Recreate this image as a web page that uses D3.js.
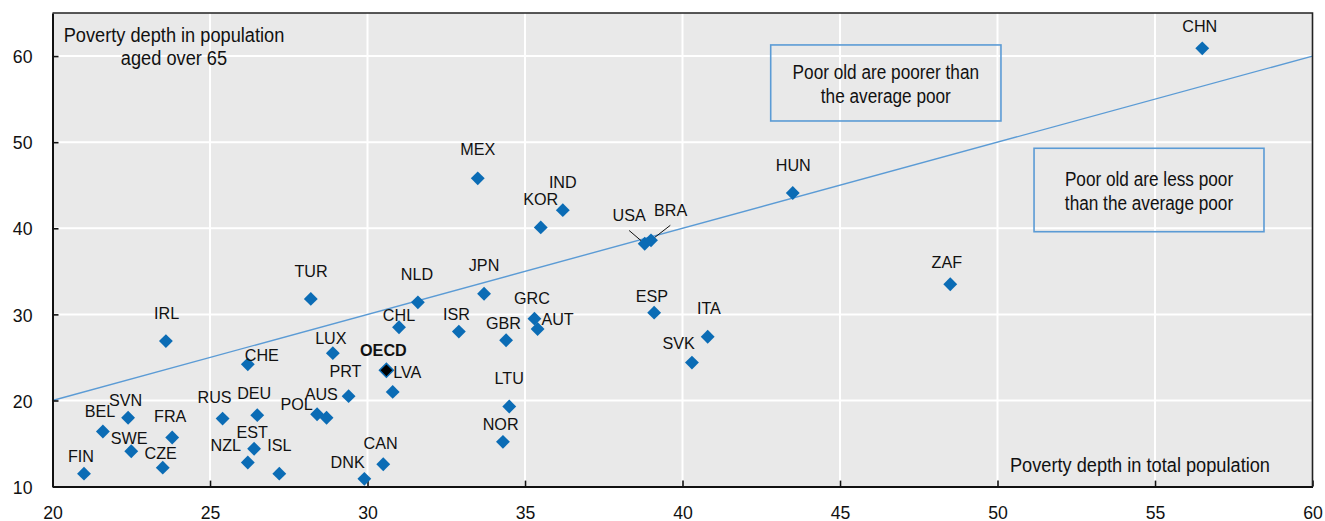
<!DOCTYPE html>
<html>
<head>
<meta charset="utf-8">
<script src="https://cdn.jsdelivr.net/npm/d3@7/dist/d3.min.js"></script>
<style>
  html, body { margin: 0; padding: 0; background: #ffffff; }
  svg { display: block; }
  text { font-family: "Liberation Sans", Arial, sans-serif; fill: #111; }
</style>
</head>
<body>
<svg id="chart" width="1325" height="521"></svg>
<script>
// Country codes with poverty depth in total population (x) and among people aged over 65 (y)
const countries = ["FIN","BEL","SVN","SWE","CZE","FRA","IRL","RUS","DEU","CHE","NZL","EST","ISL","TUR","POL","AUS","LUX","PRT","DNK","CAN","OECD","LVA","CHL","NLD","ISR","JPN","MEX","GBR","LTU","NOR","GRC","AUT","KOR","IND","USA","BRA","ESP","SVK","ITA","HUN","ZAF","CHN"];
const totalDepth = [21.0,21.6,22.4,22.5,23.5,23.8,23.6,25.4,26.5,26.2,26.2,26.4,27.2,28.2,28.4,28.7,28.9,29.4,29.9,30.5,30.6,30.8,31.0,31.6,32.9,33.7,33.5,34.4,34.5,34.3,35.3,35.4,35.5,36.2,38.8,39.0,39.1,40.3,40.8,43.5,48.5,56.5];
const elderlyDepth = [11.5,16.4,18.0,14.1,12.2,15.7,26.9,17.9,18.3,24.2,12.8,14.4,11.5,31.8,18.4,18.0,25.5,20.5,10.9,12.6,23.5,21.0,28.5,31.4,28.0,32.4,45.8,27.0,19.3,15.2,29.5,28.3,40.1,42.1,38.2,38.6,30.2,24.4,27.4,44.1,33.5,60.9];
const highlighted = "OECD";

const xTicks = [20, 25, 30, 35, 40, 45, 50, 55, 60];
const yTicks = [10, 20, 30, 40, 50, 60];

const yTitleLines = ["Poverty depth in population", "aged over 65"];
const xTitle = "Poverty depth in total population";
const noteAbove = ["Poor old are poorer than", "the average poor"];
const noteBelow = ["Poor old are less poor", "than the average poor"];

// Label placement around each marker: [dx, dy] in pixels from the marker centre to the label baseline centre
const labelPlacement = {
  FIN:[-3,-11.6], BEL:[-3,-14], SVN:[-2.6,-11.3], SWE:[-2,-7.7], CZE:[-2,-8.7], FRA:[-2,-16],
  IRL:[0.7,-21.7], RUS:[-8,-16], DEU:[-3,-16], CHE:[14,-3.3], NZL:[-22,-11.6], EST:[-2,-10.7],
  ISL:[0,-22.6], TUR:[0.3,-21.7], POL:[-20.5,-4.7], AUS:[-5.3,-17.5], LUX:[-2,-8.8], PRT:[-3.2,-18.7],
  DNK:[-16.7,-11], CAN:[-2.7,-15.7], OECD:[-3,-14.6], LVA:[14.6,-13.7], CHL:[0,-6], NLD:[-1,-22],
  ISR:[-2.4,-11.7], JPN:[0,-22.7], MEX:[0,-23.3], GBR:[-2.7,-11.4], LTU:[0,-22.4], NOR:[-2.3,-12.3],
  GRC:[-2.5,-14.4], AUT:[20,-4.3], KOR:[0,-22.7], IND:[0,-22.6], USA:[-15.6,-22.3], BRA:[19.7,-24.7],
  ESP:[-2.3,-10.6], SVK:[-13.2,-13.7], ITA:[1.2,-22.4], HUN:[0.5,-21.6], ZAF:[-3.4,-16], CHN:[-2.5,-16]
};
// Leader lines for crowded labels: end point offset from the marker centre
const leaders = { USA:[-15.6,-13.3], BRA:[19.3,-15] };

const svg = d3.select("#chart");
const x = d3.scaleLinear().domain([20, 60]).range([52.5, 1312.5]);
const y = d3.scaleLinear().domain([10, 65]).range([486.6, 13]);

// Squeeze text horizontally to a narrow face
function condense(sel, k) {
  sel.each(function () {
    const w = this.getComputedTextLength();
    this.setAttribute("textLength", (w * k).toFixed(2));
    this.setAttribute("lengthAdjust", "spacingAndGlyphs");
  });
}

// Plot background
svg.append("rect")
  .attr("x", x(20)).attr("y", y(65))
  .attr("width", x(60) - x(20)).attr("height", y(10) - y(65))
  .attr("fill", "#e9e9e9");

// Gridlines
svg.append("g").selectAll("line").data(xTicks.filter(t => t > 20 && t < 60)).join("line")
  .attr("x1", d => x(d)).attr("x2", d => x(d))
  .attr("y1", y(65)).attr("y2", y(10))
  .attr("stroke", "#ffffff").attr("stroke-width", 2);
svg.append("g").selectAll("line").data(yTicks.filter(t => t > 10)).join("line")
  .attr("x1", x(20)).attr("x2", x(60))
  .attr("y1", d => y(d)).attr("y2", d => y(d))
  .attr("stroke", "#ffffff").attr("stroke-width", 2);

// Annotation boxes
function noteBox(x0, x1, yTop, yBottom, lines, cx, baselines) {
  svg.append("rect")
    .attr("x", x(x0)).attr("y", y(yTop))
    .attr("width", x(x1) - x(x0)).attr("height", y(yBottom) - y(yTop))
    .attr("fill", "none").attr("stroke", "#5b9bd5").attr("stroke-width", 1.6);
  lines.forEach((t, i) => {
    svg.append("text")
      .attr("x", x(cx)).attr("y", y(baselines[i]))
      .attr("text-anchor", "middle")
      .style("font-size", "20px")
      .text(t)
      .call(condense, 0.86);
  });
}
noteBox(42.8, 50.11, 61.29, 52.46, noteAbove, 46.455, [57.3, 54.51]);
noteBox(51.16, 58.46, 49.29, 39.6, noteBelow, 54.81, [44.91, 42.12]);

// Equal-depth line
svg.append("line")
  .attr("x1", x(20)).attr("y1", y(20))
  .attr("x2", x(60)).attr("y2", y(60))
  .attr("stroke", "#5b9bd5").attr("stroke-width", 1.4);

// Axes with inward ticks
const xAxis = d3.axisBottom(x).tickValues(xTicks).tickSizeInner(-6).tickSizeOuter(0).tickFormat(d3.format("d"));
const gx = svg.append("g").attr("transform", `translate(0,${y(10)})`).call(xAxis);
gx.select(".domain").attr("stroke", "#111").attr("stroke-width", 2);
gx.selectAll(".tick line").attr("stroke", "#111").attr("stroke-width", 1.6);
gx.selectAll(".tick text")
  .attr("y", 32).attr("dy", null)
  .style("font-size", "19px").style("font-family", "'Liberation Sans', Arial, sans-serif").attr("fill", "#111")
  .call(condense, 0.93);

const yAxis = d3.axisLeft(y).tickValues(yTicks).tickSizeInner(-6).tickSizeOuter(0).tickFormat(d3.format("d"));
const gy = svg.append("g").attr("transform", `translate(${x(20)},0)`).call(yAxis);
gy.select(".domain").attr("stroke", "#111").attr("stroke-width", 2);
gy.selectAll(".tick line").attr("stroke", "#111").attr("stroke-width", 1.6);
gy.selectAll(".tick text")
  .attr("x", -20).attr("dy", "0.35em")
  .style("font-size", "19px").style("font-family", "'Liberation Sans', Arial, sans-serif").attr("fill", "#111")
  .call(condense, 0.93);

// Top and right frame
svg.append("path")
  .attr("d", `M${x(20)},${y(65)}H${x(60)}V${y(10)}`)
  .attr("fill", "none").attr("stroke", "#222").attr("stroke-width", 1.6);

// Axis titles
yTitleLines.forEach((t, i) => {
  svg.append("text")
    .attr("x", 174).attr("y", 41.7 + i * 23.3)
    .attr("text-anchor", "middle")
    .style("font-size", "20px")
    .text(t)
    .call(condense, 0.91);
});
svg.append("text")
  .attr("x", 1270).attr("y", 471.7)
  .attr("text-anchor", "end")
  .style("font-size", "20px")
  .text(xTitle)
  .call(condense, 0.91);

// Markers and labels
const points = countries.map((c, i) => ({ code: c, tx: totalDepth[i], ey: elderlyDepth[i] }));

const leaderG = svg.append("g");
points.filter(p => leaders[p.code]).forEach(p => {
  const [lx, ly] = leaders[p.code];
  leaderG.append("line")
    .attr("x1", x(p.tx)).attr("y1", y(p.ey))
    .attr("x2", x(p.tx) + lx).attr("y2", y(p.ey) + ly)
    .attr("stroke", "#111").attr("stroke-width", 1);
});

const diamond = d3.symbol(d3.symbolSquare, 96);
svg.append("g").selectAll("path").data(points).join("path")
  .attr("d", diamond)
  .attr("transform", d => `translate(${x(d.tx)},${y(d.ey)}) rotate(45)`)
  .attr("fill", d => d.code === highlighted ? "#000" : "#0b6cb5")
  .attr("stroke", d => d.code === highlighted ? "#0b6cb5" : "none")
  .attr("stroke-width", 1.5);

svg.append("g").selectAll("text").data(points).join("text")
  .attr("x", d => x(d.tx) + labelPlacement[d.code][0])
  .attr("y", d => y(d.ey) + labelPlacement[d.code][1])
  .attr("text-anchor", "middle")
  .style("font-size", "17px")
  .style("font-weight", d => d.code === highlighted ? "bold" : "normal")
  .text(d => d.code)
  .call(condense, 0.95);
</script>
</body>
</html>
